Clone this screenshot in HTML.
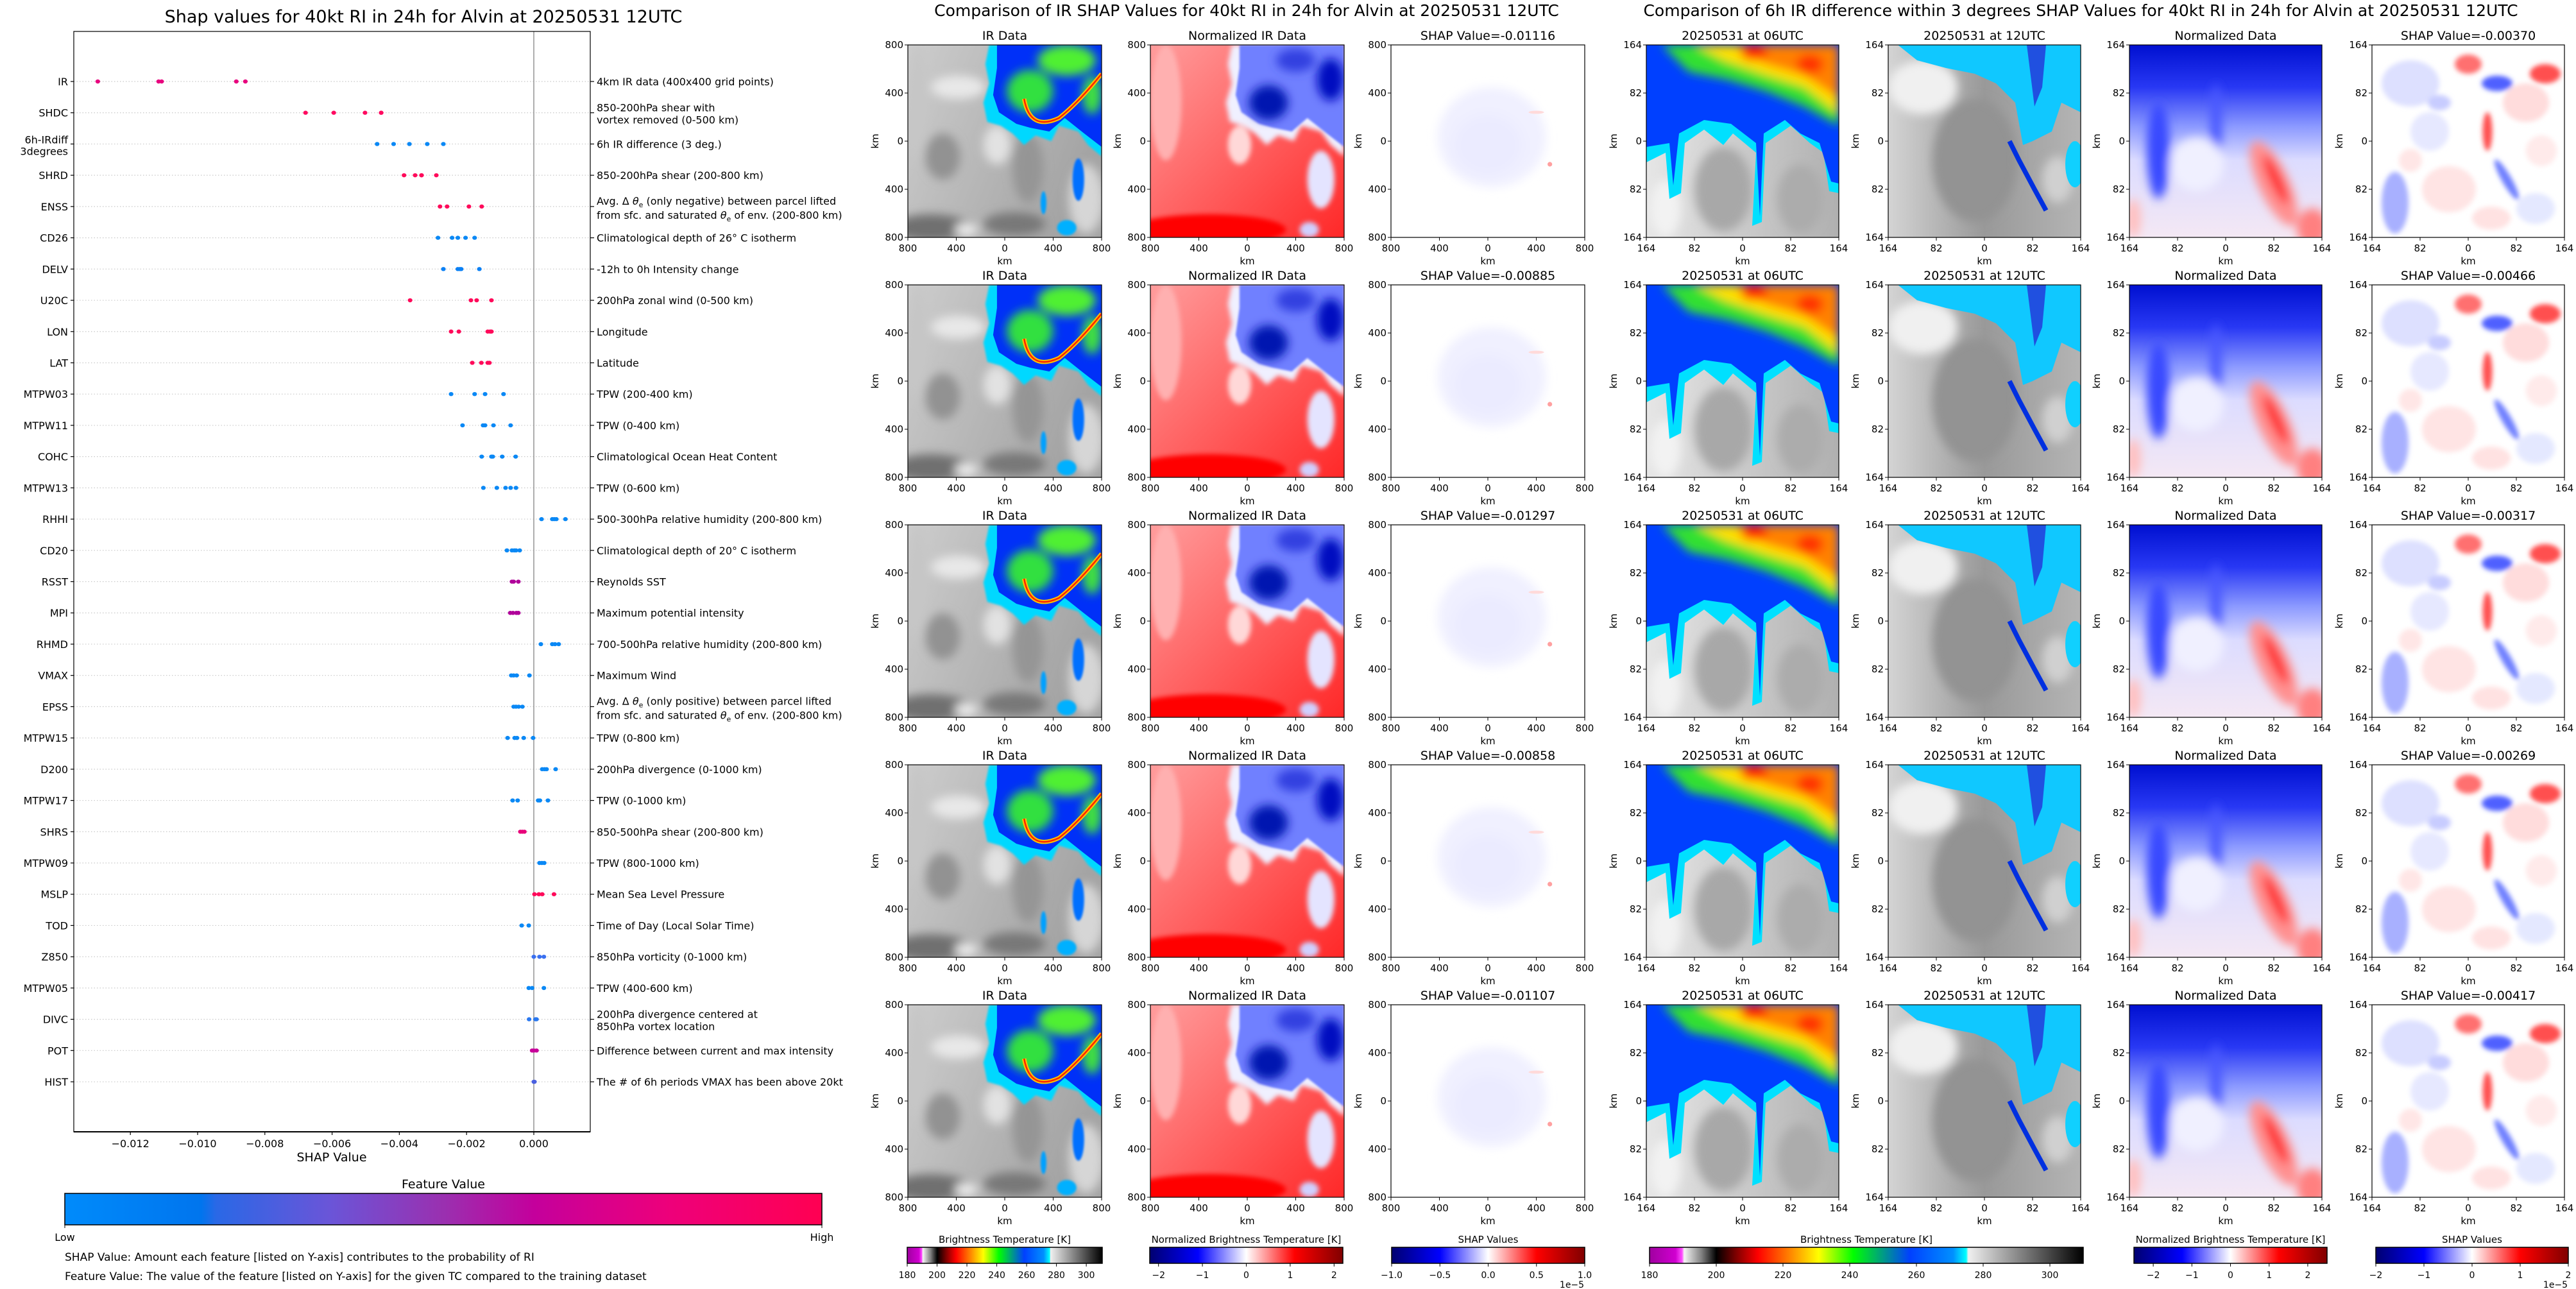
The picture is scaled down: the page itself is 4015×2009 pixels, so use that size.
<!DOCTYPE html>
<html><head><meta charset="utf-8">
<style>
html,body{margin:0;padding:0;background:#fff;}
svg{display:block;font-family:"DejaVu Sans","Liberation Sans",sans-serif;}
</style></head>
<body>
<svg id="root" xmlns="http://www.w3.org/2000/svg" width="4015" height="2009" viewBox="0 0 4015 2009">
<defs>
<filter id="b1" x="-20%" y="-20%" width="140%" height="140%"><feGaussianBlur stdDeviation="1.2"/></filter>
<filter id="b2" x="-20%" y="-20%" width="140%" height="140%"><feGaussianBlur stdDeviation="2.5"/></filter>
<filter id="b05"><feGaussianBlur stdDeviation="0.5"/></filter>
<linearGradient id="featGrad" x1="0" x2="1" y1="0" y2="0">
<stop offset="0" stop-color="#008bfb"/><stop offset="0.18" stop-color="#0075ee"/><stop offset="0.2" stop-color="#2a68e6"/>
<stop offset="0.35" stop-color="#6a55d8"/><stop offset="0.5" stop-color="#9a30b0"/><stop offset="0.62" stop-color="#c4009c"/>
<stop offset="0.8" stop-color="#ee007a"/><stop offset="1" stop-color="#ff0052"/>
</linearGradient>
<linearGradient id="irCmap" x1="0" x2="1" y1="0" y2="0">
<stop offset="0" stop-color="#a000a0"/><stop offset="0.06" stop-color="#d000d0"/><stop offset="0.075" stop-color="#ff50ff"/>
<stop offset="0.08" stop-color="#f4f4f4"/><stop offset="0.12" stop-color="#808080"/><stop offset="0.154" stop-color="#000000"/>
<stop offset="0.2" stop-color="#800000"/><stop offset="0.25" stop-color="#ff0000"/><stop offset="0.33" stop-color="#ff9000"/>
<stop offset="0.39" stop-color="#ffff00"/><stop offset="0.47" stop-color="#00ff00"/><stop offset="0.6" stop-color="#0040ff"/>
<stop offset="0.7" stop-color="#0090ff"/><stop offset="0.73" stop-color="#00ffff"/><stop offset="0.735" stop-color="#f0f0f0"/>
<stop offset="1" stop-color="#000000"/>
</linearGradient>
<linearGradient id="bwr" x1="0" x2="1" y1="0" y2="0">
<stop offset="0" stop-color="#000070"/><stop offset="0.25" stop-color="#0000ff"/><stop offset="0.5" stop-color="#ffffff"/>
<stop offset="0.75" stop-color="#ff0000"/><stop offset="1" stop-color="#800000"/>
</linearGradient>
<linearGradient id="gIRbg" x1="0" x2="1" y1="0" y2="0.4"><stop offset="0" stop-color="#cdcdcd"/><stop offset="1" stop-color="#a4a4a4"/></linearGradient>
<linearGradient id="gNIRbg" x1="0" x2="1" y1="0" y2="1"><stop offset="0" stop-color="#ff9c9c"/><stop offset="1" stop-color="#ff2828"/></linearGradient>
<linearGradient id="g06bg" x1="0" x2="1" y1="0" y2="0"><stop offset="0" stop-color="#e6e6e6"/><stop offset="1" stop-color="#b0b0b0"/></linearGradient>
<linearGradient id="g12bg" x1="0" x2="1" y1="0" y2="0"><stop offset="0" stop-color="#d4d4d4"/><stop offset="0.5" stop-color="#999"/><stop offset="1" stop-color="#b4b4b4"/></linearGradient>
<linearGradient id="gNDbg" x1="0" x2="0" y1="0" y2="1"><stop offset="0" stop-color="#0010d0"/><stop offset="0.22" stop-color="#2838f4"/><stop offset="0.42" stop-color="#8a98ff"/><stop offset="0.6" stop-color="#dcdcff"/><stop offset="1" stop-color="#f4e8f4"/></linearGradient>
</defs>
</svg>
<script>
// ---------- Left SHAP summary data ----------
const featureNames = ["IR","SHDC","6h-IRdiff|3degrees","SHRD","ENSS","CD26","DELV","U20C","LON","LAT","MTPW03","MTPW11","COHC","MTPW13","RHHI","CD20","RSST","MPI","RHMD","VMAX","EPSS","MTPW15","D200","MTPW17","SHRS","MTPW09","MSLP","TOD","Z850","MTPW05","DIVC","POT","HIST"];
const featureDescriptions = ["4km IR data (400x400 grid points)","850-200hPa shear with|vortex removed (0-500 km)","6h IR difference (3 deg.)","850-200hPa shear (200-800 km)","ENSS_DESC","Climatological depth of 26° C isotherm","-12h to 0h Intensity change","200hPa zonal wind (0-500 km)","Longitude","Latitude","TPW (200-400 km)","TPW (0-400 km)","Climatological Ocean Heat Content","TPW (0-600 km)","500-300hPa relative humidity (200-800 km)","Climatological depth of 20° C isotherm","Reynolds SST","Maximum potential intensity","700-500hPa relative humidity (200-800 km)","Maximum Wind","EPSS_DESC","TPW (0-800 km)","200hPa divergence (0-1000 km)","TPW (0-1000 km)","850-500hPa shear (200-800 km)","TPW (800-1000 km)","Mean Sea Level Pressure","Time of Day (Local Solar Time)","850hPa vorticity (0-1000 km)","TPW (400-600 km)","200hPa divergence centered at|850hPa vortex location","Difference between current and max intensity","The # of 6h periods VMAX has been above 20kt"];
const shapValues = [
 [-0.01297,-0.01116,-0.01107,-0.00885,-0.00858],
 [-0.00679,-0.00595,-0.00502,-0.00454,-0.00454],
 [-0.00466,-0.00417,-0.00370,-0.00317,-0.00269],
 [-0.00386,-0.00353,-0.00334,-0.00334,-0.00290],
 [-0.00279,-0.00258,-0.00193,-0.00155],
 [-0.00285,-0.00243,-0.00226,-0.00203,-0.00176],
 [-0.00269,-0.00226,-0.00220,-0.00216,-0.00162],
 [-0.00368,-0.00187,-0.00170,-0.00126],
 [-0.00246,-0.00223,-0.00137,-0.00130,-0.00126],
 [-0.00183,-0.00156,-0.00137,-0.00132],
 [-0.00246,-0.00176,-0.00145,-0.00090],
 [-0.00212,-0.00151,-0.00145,-0.00120,-0.00069],
 [-0.00155,-0.00126,-0.00122,-0.00094,-0.00054],
 [-0.00150,-0.00110,-0.00084,-0.00069,-0.00053],
 [0.00023,0.00055,0.00061,0.00067,0.00094],
 [-0.00080,-0.00065,-0.00058,-0.00053,-0.00042],
 [-0.00065,-0.00060,-0.00046],
 [-0.00070,-0.00062,-0.00052,-0.00046],
 [0.00021,0.00055,0.00063,0.00074],
 [-0.00067,-0.00060,-0.00051,-0.00013],
 [-0.00060,-0.00053,-0.00045,-0.00034],
 [-0.00078,-0.00057,-0.00050,-0.00030,-0.00002],
 [0.00025,0.00032,0.00038,0.00065],
 [-0.00063,-0.00048,0.00013,0.00018,0.00042],
 [-0.00040,-0.00034,-0.00028],
 [0.00017,0.00024,0.00031],
 [0.00002,0.00015,0.00025,0.00060],
 [-0.00036,-0.00015],
 [0.00000,0.00017,0.00030],
 [-0.00015,-0.00005,0.00030],
 [-0.00014,0.00005,0.00008],
 [-0.00005,0.00000,0.00008],
 [0.00000,0.00002]
];
const dotColors = ["#e8007e","#ff0a60","#0a88f5","#ff0a5a","#ff0a5a","#0a88f5","#0a80f5","#ff0a5a","#ff0a5a","#ff0a5a","#0a88f5","#0a88f5","#0a88f5","#0a88f5","#0a88f5","#0a88f5","#b0009a","#b0009a","#0a88f5","#0a88f5","#0a88f5","#0a88f5","#0a88f5","#0a88f5","#e8007a","#0a88f5","#ff0a5a","#0a88f5","#3a70f0","#0a88f5","#2a78f0","#c8009a","#4a60e0"];
const xTickValues = [-0.012,-0.010,-0.008,-0.006,-0.004,-0.002,0.000];
const xTickLabels = ["\u22120.012","\u22120.010","\u22120.008","\u22120.006","\u22120.004","\u22120.002","0.000"];

// ---------- Image panel data ----------
const irShapValues = [-0.01116,-0.00885,-0.01297,-0.00858,-0.01107];
const diffShapValues = [-0.00370,-0.00466,-0.00317,-0.00269,-0.00417];
const irTickLabels = ["800","400","0","400","800"];
const diffTickLabels = ["164","82","0","82","164"];
const btTicks = [180,200,220,240,260,280,300];
const normTicks = [-2,-1,0,1,2];
const shapCbTicks = [-1.0,-0.5,0.0,0.5,1.0];

const NS = "http://www.w3.org/2000/svg";
const root = document.getElementById("root");
function mk(tag, attrs, parent, text){
  const e = document.createElementNS(NS, tag);
  for (const k in attrs) e.setAttribute(k, attrs[k]);
  if (text !== undefined) e.textContent = text;
  (parent || root).appendChild(e);
  return e;
}

const AX = {left:115, right:920, top:49, bottom:1764};
function xScale(v){ return 832 + v * 52400; }
function yRow(i){ return 127 + i * 48.72; }

const lg = mk("g", {});



let t = mk("text", {x:660, y:35, "font-size":27, "text-anchor":"middle"}, lg, "Shap values for 40kt RI in 24h for Alvin at 20250531 12UTC");



featureNames.forEach((name, i) => {
  const y = yRow(i);
  const gl = mk("line", {x1:AX.left, x2:AX.right, y1:y, y2:y, stroke:"#c8c8c8", "stroke-width":1.2, "stroke-dasharray":"1.5,3"}, lg);
  
  
  mk("line", {x1:AX.left-5, x2:AX.left, y1:y, y2:y, stroke:"#000", "stroke-width":1.2}, lg);
  mk("line", {x1:AX.right, x2:AX.right+6, y1:y, y2:y, stroke:"#000", "stroke-width":1.2}, lg);
  const parts = name.split("|");
  const lbl = mk("text", {x:106, y:0, "font-size":16, "text-anchor":"end"}, lg);
  
  
  if (parts.length === 1) { lbl.setAttribute("y", y+6); lbl.textContent = name; }
  else {
    mk("tspan", {x:106, y:y-1}, lbl, parts[0]);
    mk("tspan", {x:106, y:y+17}, lbl, parts[1]);
  }
  const d = featureDescriptions[i];
  const dl = mk("text", {x:930, y:y+6, "font-size":16}, lg);
  
  
  if (d === "ENSS_DESC" || d === "EPSS_DESC") {
    const sign = d === "ENSS_DESC" ? "negative" : "positive";
    mk("tspan", {x:930, y:y-3}, dl, "Avg. \u0394 ");
    mk("tspan", {"font-style":"italic"}, dl, "\u03b8");
    mk("tspan", {"font-size":11, dy:4}, dl, "e");
    mk("tspan", {dy:-4}, dl, " (only " + sign + ") between parcel lifted");
    mk("tspan", {x:930, y:y+19}, dl, "from sfc. and saturated ");
    mk("tspan", {"font-style":"italic"}, dl, "\u03b8");
    mk("tspan", {"font-size":11, dy:4}, dl, "e");
    mk("tspan", {dy:-4}, dl, " of env. (200-800 km)");
  } else {
    const p = d.split("|");
    if (p.length === 1) dl.textContent = d;
    else { mk("tspan", {x:930, y:y-2}, dl, p[0]); mk("tspan", {x:930, y:y+17}, dl, p[1]); }
  }
});

const zl = mk("line", {x1:xScale(0), x2:xScale(0), y1:AX.top, y2:AX.bottom, stroke:"#999", "stroke-width":1.6}, lg);



shapValues.forEach((vals, i) => {
  vals.forEach(v => {
    const c = mk("ellipse", {cx:xScale(v), cy:yRow(i), rx:3.6, ry:3.2, fill:dotColors[i]}, lg);
    
    
  });
});

const frame = mk("rect", {x:AX.left, y:AX.top, width:AX.right-AX.left, height:AX.bottom-AX.top, fill:"none", stroke:"#000", "stroke-width":1.2}, lg);


mk("line", {x1:AX.left, x2:AX.right, y1:AX.bottom, y2:AX.bottom, stroke:"#000", "stroke-width":2}, lg);

xTickValues.forEach((v, k) => {
  const x = xScale(v);
  mk("line", {x1:x, x2:x, y1:AX.bottom, y2:AX.bottom+5, stroke:"#000", "stroke-width":1.2}, lg);
  const tl = mk("text", {x:x, y:AX.bottom+24, "font-size":16, "text-anchor":"middle"}, lg, xTickLabels[k]);
  
  
});
t = mk("text", {x:517, y:1810, "font-size":19, "text-anchor":"middle"}, lg, "SHAP Value");



t = mk("text", {x:691, y:1852, "font-size":19, "text-anchor":"middle"}, lg, "Feature Value");


const fcb = mk("rect", {x:101, y:1860, width:1180, height:49, fill:"url(#featGrad)", stroke:"#000", "stroke-width":1.5}, lg);


mk("line", {x1:101, x2:101, y1:1909, y2:1914, stroke:"#000"}, lg);
mk("line", {x1:1281, x2:1281, y1:1909, y2:1914, stroke:"#000"}, lg);
t = mk("text", {x:101, y:1934, "font-size":16, "text-anchor":"middle"}, lg, "Low");


t = mk("text", {x:1281, y:1934, "font-size":16, "text-anchor":"middle"}, lg, "High");


t = mk("text", {x:101, y:1965, "font-size":17}, lg, "SHAP Value: Amount each feature [listed on Y-axis] contributes to the probability of RI");


t = mk("text", {x:101, y:1995, "font-size":17}, lg, "Feature Value: The value of the feature [listed on Y-axis] for the given TC compared to the training dataset");



const ART = {
ir: `<rect width="100" height="100" fill="url(#gIRbg)"/>
<g filter="url(#b2)">
<ellipse cx="12" cy="95" rx="20" ry="7" fill="#707070"/><ellipse cx="55" cy="93" rx="16" ry="6" fill="#787878"/>
<ellipse cx="18" cy="58" rx="9" ry="12" fill="#929292"/><ellipse cx="62" cy="64" rx="8" ry="18" fill="#959595"/>
<ellipse cx="26" cy="22" rx="14" ry="6" fill="#e8e8e8"/><ellipse cx="46" cy="52" rx="7" ry="10" fill="#e2e2e2"/>
<ellipse cx="92" cy="80" rx="9" ry="18" fill="#d6d6d6"/><ellipse cx="30" cy="96" rx="6" ry="3" fill="#f0f0f0"/>
<ellipse cx="5" cy="30" rx="5" ry="30" fill="#c6c6c6"/></g>
<path d="M42,0 L100,0 L100,58 L93,52 L88,45 L78,42 L74,50 L66,47 L60,52 L54,46 L48,42 L41,40 L39,30 L42,20 L40,10 Z" fill="#00d8ff" filter="url(#b05)"/>
<path d="M46,0 L100,0 L100,53 L91,46 L81,38 L73,45 L63,43 L56,41 L47,35 L44,26 L46,12 Z" fill="#0030f8"/>
<g filter="url(#b2)"><ellipse cx="63" cy="24" rx="12" ry="11" fill="#30e040"/><ellipse cx="82" cy="8" rx="15" ry="8" fill="#50f030"/><ellipse cx="95" cy="26" rx="5" ry="10" fill="#40e040"/></g>
<path d="M60,28 Q63,45 78,38 Q88,30 100,15" stroke="#ffc000" stroke-width="2.2" fill="none"/>
<path d="M60,28 Q63,45 78,38 Q88,30 100,15" stroke="#ff2000" stroke-width="0.8" fill="none"/>
<g filter="url(#b05)"><ellipse cx="88" cy="70" rx="3" ry="11" fill="#0070ff"/><ellipse cx="82" cy="95" rx="5" ry="4" fill="#00b0ff"/><ellipse cx="70" cy="82" rx="1.5" ry="6" fill="#00a0ff"/></g>`,
nir: `<rect width="100" height="100" fill="url(#gNIRbg)"/>
<g filter="url(#b1)"><ellipse cx="30" cy="96" rx="40" ry="8" fill="#ff0000"/><ellipse cx="8" cy="30" rx="8" ry="30" fill="#ffb0b0"/>
<ellipse cx="46" cy="52" rx="6" ry="10" fill="#ffd8d8"/><ellipse cx="88" cy="70" rx="7" ry="15" fill="#e4e4ff"/><ellipse cx="82" cy="96" rx="5" ry="4" fill="#d0d0ff"/>
<path d="M42,0 L100,0 L100,58 L93,52 L88,45 L78,42 L74,50 L66,47 L60,52 L54,46 L48,42 L41,40 L39,30 L42,20 L40,10 Z" fill="#f0f0ff"/></g>
<path d="M46,0 L100,0 L100,53 L91,46 L81,38 L73,45 L63,43 L56,41 L47,35 L44,26 L46,12 Z" fill="#7080ff" filter="url(#b05)"/>
<g filter="url(#b2)"><ellipse cx="61" cy="30" rx="10" ry="9" fill="#0018b0"/><ellipse cx="93" cy="18" rx="7" ry="11" fill="#0010c0"/><ellipse cx="75" cy="8" rx="10" ry="6" fill="#3040e0"/></g>`,
sir: `<rect width="100" height="100" fill="#fff"/>
<g filter="url(#b2)"><ellipse cx="52" cy="48" rx="28" ry="26" fill="#f0f0ff"/><ellipse cx="50" cy="52" rx="18" ry="16" fill="#ebebff"/></g>
<ellipse cx="82" cy="62" rx="1.2" ry="1.2" fill="#ffa0a0"/><ellipse cx="75" cy="35" rx="4" ry="0.8" fill="#ffdada"/>`,
d06: `<rect width="100" height="100" fill="url(#g06bg)"/>
<g filter="url(#b2)"><ellipse cx="40" cy="75" rx="15" ry="22" fill="#a8a8a8"/><ellipse cx="80" cy="80" rx="12" ry="18" fill="#acacac"/><ellipse cx="10" cy="85" rx="8" ry="15" fill="#f2f2f2"/></g>
<path d="M0,0 L100,0 L100,77 L95,76 L92,56 L85,51 L75,42 L62,51 L60,92 L55,94 L57,56 L45,46 L40,52 L30,44 L20,51 L18,77 L12,80 L10,56 L0,61 Z" fill="#00e0ff"/>
<path d="M0,0 L100,0 L100,72 L96,71 L90,51 L80,46 L72,39 L61,46 L59,89 L57,51 L44,41 L30,39 L17,46 L14,73 L12,51 L0,53 Z" fill="#0040ff"/>
<g filter="url(#b2)"><path d="M8,0 L100,0 L100,42 L82,32 L62,24 L42,18 L22,14 Z" fill="#30e030"/>
<path d="M25,0 L100,0 L100,36 L82,22 L60,15 L40,8 Z" fill="#ffe000"/><path d="M45,0 L100,0 L100,28 L82,16 L62,10 Z" fill="#ff8000"/>
<ellipse cx="56" cy="4" rx="7" ry="4" fill="#ff2000"/><ellipse cx="85" cy="10" rx="7" ry="5" fill="#ff3000"/></g>`,
d12: `<rect width="100" height="100" fill="url(#g12bg)"/>
<g filter="url(#b2)"><ellipse cx="45" cy="60" rx="22" ry="32" fill="#939393"/><ellipse cx="18" cy="22" rx="18" ry="14" fill="#f0f0f0"/><ellipse cx="88" cy="70" rx="8" ry="12" fill="#d0d0d0"/></g>
<path d="M5,0 L100,0 L100,35 L90,30 L85,45 L75,50 L70,52 L66,30 L56,20 L45,15 L30,12 L15,8 Z" fill="#10c8ff"/>
<path d="M72,0 L82,0 L80,22 L76,32 Z" fill="#2050e0"/>
<path d="M63,50 L68,60 L76,75 L82,86" stroke="#0030e0" stroke-width="2.5" fill="none"/>
<ellipse cx="97" cy="62" rx="5" ry="12" fill="#10d0ff"/>`,
nd: `<rect width="100" height="100" fill="url(#gNDbg)"/>
<g filter="url(#b2)"><ellipse cx="15" cy="55" rx="6" ry="25" fill="#3848ff"/><ellipse cx="45" cy="42" rx="3" ry="22" fill="#4858ff"/>
<ellipse cx="35" cy="62" rx="14" ry="14" fill="#f0f0ff"/>
<ellipse cx="75" cy="72" rx="8" ry="24" fill="#ff9090" transform="rotate(-25 75 72)"/>
<ellipse cx="76" cy="70" rx="3" ry="14" fill="#ff2020" transform="rotate(-25 76 70)"/>
<ellipse cx="95" cy="95" rx="8" ry="10" fill="#ff8080"/><ellipse cx="2" cy="90" rx="4" ry="10" fill="#ffc0c0"/></g>`,
sd: `<rect width="100" height="100" fill="#fff"/>
<g filter="url(#b1)">
<ellipse cx="20" cy="20" rx="15" ry="12" fill="#dde0ff"/><ellipse cx="80" cy="30" rx="12" ry="10" fill="#ffdcdc"/>
<ellipse cx="40" cy="75" rx="14" ry="12" fill="#ffe4e4"/><ellipse cx="12" cy="82" rx="7" ry="16" fill="#a8b0ff"/>
<ellipse cx="50" cy="10" rx="7" ry="5" fill="#ff7070"/><ellipse cx="60" cy="45" rx="2.5" ry="10" fill="#ff5050"/>
<ellipse cx="65" cy="20" rx="8" ry="4" fill="#5060ff"/><ellipse cx="90" cy="15" rx="8" ry="5" fill="#ff5050"/>
<ellipse cx="70" cy="70" rx="2.5" ry="12" fill="#7080ff" transform="rotate(-30 70 70)"/>
<ellipse cx="85" cy="85" rx="10" ry="8" fill="#e4e8ff"/><ellipse cx="30" cy="45" rx="10" ry="10" fill="#e6e8ff"/>
<ellipse cx="62" cy="90" rx="10" ry="6" fill="#ffe2e2"/><ellipse cx="88" cy="55" rx="8" ry="8" fill="#ffeaea"/>
<ellipse cx="35" cy="30" rx="6" ry="4" fill="#c8ccff"/><ellipse cx="20" cy="60" rx="6" ry="6" fill="#ffe6e6"/></g>`
};

function panel(x, y, w, h, art, title, name, ticks, showYlabel){
  const g = mk("g", {});
  
  
  const s = mk("svg", {x:x, y:y, width:w, height:h, viewBox:"0 0 100 100", preserveAspectRatio:"none"}, g);
  s.innerHTML = ART[art];
  mk("rect", {x:x, y:y, width:w, height:h, fill:"none", stroke:"#000", "stroke-width":1.2}, g);
  const tt = mk("text", {x:x+w/2, y:y-8, "font-size":19, "text-anchor":"middle"}, g, title);
  
  
  ticks.forEach((lab, k) => {
    const tx = x + w*k/4, ty = y + h*k/4;
    mk("line", {x1:tx, x2:tx, y1:y+h, y2:y+h+5, stroke:"#000"}, g);
    mk("line", {x1:x-5, x2:x, y1:ty, y2:ty, stroke:"#000"}, g);
    mk("text", {x:tx, y:y+h+22, "font-size":15, "text-anchor":"middle"}, g, lab);
    mk("text", {x:x-7, y:ty+5, "font-size":15, "text-anchor":"end"}, g, lab);
  });
  mk("text", {x:x+w/2, y:y+h+42, "font-size":15, "text-anchor":"middle"}, g, "km");
  if (showYlabel) mk("text", {x:0, y:0, "font-size":15, "text-anchor":"middle", transform:`translate(${x-46},${y+h/2}) rotate(-90)`}, g, "km");
}

const rowTops = [70,444,818,1192,1566];
const irCols = [1415,1793,2168];
const dCols = [2566,2943,3319,3697];
rowTops.forEach((ry, r) => {
  panel(irCols[0], ry, 302, 300, "ir", "IR Data", "ir-data-panel", irTickLabels, true);
  panel(irCols[1], ry, 302, 300, "nir", "Normalized IR Data", "normalized-ir-panel", irTickLabels, true);
  panel(irCols[2], ry, 302, 300, "sir", "SHAP Value=" + irShapValues[r].toFixed(5), "ir-shap-panel", irTickLabels, true);
  panel(dCols[0], ry, 300, 300, "d06", "20250531 at 06UTC", "ir-06utc-panel", diffTickLabels, true);
  panel(dCols[1], ry, 300, 300, "d12", "20250531 at 12UTC", "ir-12utc-panel", diffTickLabels, true);
  panel(dCols[2], ry, 300, 300, "nd", "Normalized Data", "normalized-diff-panel", diffTickLabels, true);
  panel(dCols[3], ry, 300, 300, "sd", "SHAP Value=" + diffShapValues[r].toFixed(5), "diff-shap-panel", diffTickLabels, true);
});

t = mk("text", {x:1943, y:25, "font-size":25, "text-anchor":"middle"}, root, "Comparison of IR SHAP Values for 40kt RI in 24h for Alvin at 20250531 12UTC");


t = mk("text", {x:3243, y:25, "font-size":25, "text-anchor":"middle"}, root, "Comparison of 6h IR difference within 3 degrees SHAP Values for 40kt RI in 24h for Alvin at 20250531 12UTC");



function colorbar(x, w, grad, label, vmin, vmax, ticks, fmt, name, offsetText){
  const g = mk("g", {});
  
  
  const y = 1944, h = 25;
  mk("rect", {x:x, y:y, width:w, height:h, fill:`url(#${grad})`, stroke:"#000", "stroke-width":1.5}, g);
  const lt = mk("text", {x:x+w/2, y:1937, "font-size":15, "text-anchor":"middle"}, g, label);
  
  
  ticks.forEach(v => {
    const tx = x + (v - vmin) / (vmax - vmin) * w;
    mk("line", {x1:tx, x2:tx, y1:y+h, y2:y+h+5, stroke:"#000"}, g);
    mk("text", {x:tx, y:1992, "font-size":14, "text-anchor":"middle"}, g, fmt(v));
  });
  if (offsetText) mk("text", {x:x+w-20, y:2007, "font-size":14, "text-anchor":"middle"}, g, offsetText);
}
const neg = v => (v < 0 ? "\u2212" : "") + Math.abs(v);
const neg1 = v => (v < 0 ? "\u2212" : "") + Math.abs(v).toFixed(1);
colorbar(1414, 304, "irCmap", "Brightness Temperature [K]", 180, 310.7, btTicks, String, "bt-colorbar-1");
colorbar(1792, 301, "bwr", "Normalized Brightness Temperature [K]", -2.2, 2.2, normTicks, neg, "norm-colorbar-1");
colorbar(2169, 301, "bwr", "SHAP Values", -1, 1, shapCbTicks, neg1, "shap-colorbar-1", "1e\u22125");
colorbar(2571, 676, "irCmap", "Brightness Temperature [K]", 180, 310, btTicks, String, "bt-colorbar-2");
colorbar(3326, 301, "bwr", "Normalized Brightness Temperature [K]", -2.5, 2.5, normTicks, neg, "norm-colorbar-2");
colorbar(3703, 300, "bwr", "SHAP Values", -2, 2, normTicks, neg, "shap-colorbar-2", "1e\u22125");
</script>
</body></html>
